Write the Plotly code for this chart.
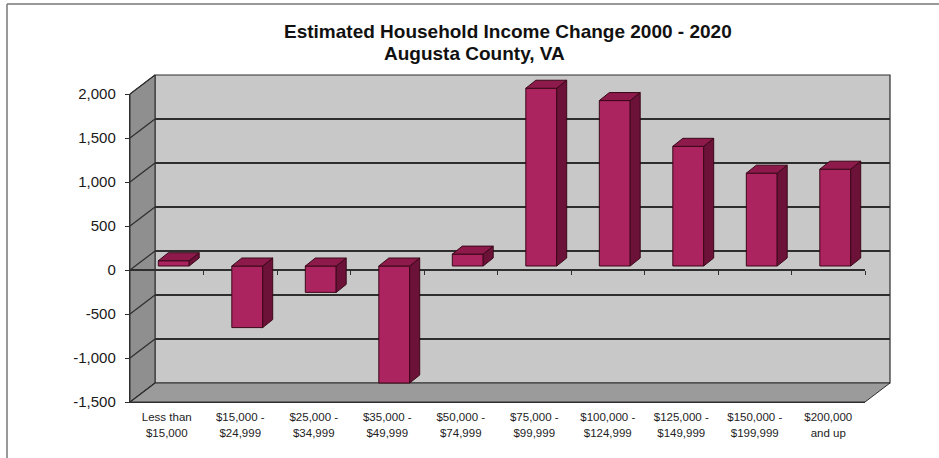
import plotly.graph_objects as go

# ---------------- data ----------------
categories = ["Less than<br>$15,000", "$15,000 -<br>$24,999", "$25,000 -<br>$34,999",
              "$35,000 -<br>$49,999", "$50,000 -<br>$74,999", "$75,000 -<br>$99,999",
              "$100,000 -<br>$124,999", "$125,000 -<br>$149,999", "$150,000 -<br>$199,999",
              "$200,000<br>and up"]
values = [60, -700, -300, -1330, 135, 2020, 1880, 1360, 1055, 1100]
y_tick_values = [-1500, -1000, -500, 0, 500, 1000, 1500, 2000]
y_tick_labels = ["-1,500", "-1,000", "-500", "0", "500", "1,000", "1,500", "2,000"]
title_lines = ["Estimated Household Income Change 2000 - 2020", "Augusta County, VA"]

# ---------------- geometry / style ----------------
FIG_W, FIG_H = 939, 458
L, R, T, B = 130, 49, 75, 56
PW, PH = FIG_W - L - R, FIG_H - T - B
FRONT_W, FRONT_H = 735, 308
DX, DY = 25, 19                 # depth of the 3-D box (px)
BAR_FRONT = (7, 4)              # bar front-face offset into the box (px)
BAR_BACK = (17, 12)             # bar back-face offset (px)
BAR_W = 0.42

FONT = "Liberation Sans, Arial, sans-serif"
GRID = "#2e2e2e"
BACKWALL = "#c8c8c8"
SIDEWALL = "#8f8f8f"
FLOOR = "#9b9b9b"
BAR_FRONT_C = "#ab235f"
BAR_SIDE_C = "#6c1239"
BAR_TOP_C = "#8e1a4c"
BAR_EDGE = "#3a0818"

n = len(values)
xlo, xhi = -0.5, n - 0.5
ylo, yhi = y_tick_values[0], y_tick_values[-1]
px_per_cat = FRONT_W / (xhi - xlo)
px_per_unit = FRONT_H / (yhi - ylo)
label_line1 = [c.split("<br>")[0] for c in categories]
label_line2 = [c.split("<br>")[1] for c in categories]


def pxf(xpix):
    return (xpix - L) / PW


def pyf(ypix):
    return (FIG_H - B - ypix) / PH


def yfront(v):
    return FIG_H - B - (v - ylo) * px_per_unit


def path(points):
    return "M " + " L ".join(f"{pxf(x):.5f},{pyf(y):.5f}" for x, y in points) + " Z"


xb = FIG_H - B  # front bottom pixel
shapes = []
shapes.append(dict(type="rect", xref="paper", yref="paper", layer="below",
                   x0=pxf(L + DX), x1=pxf(L + FRONT_W + DX),
                   y0=pyf(xb - DY), y1=pyf(xb - FRONT_H - DY),
                   fillcolor=BACKWALL, line=dict(color=GRID, width=1.2)))
shapes.append(dict(type="path", xref="paper", yref="paper", layer="below",
                   path=path([(L, xb - FRONT_H), (L + DX, xb - FRONT_H - DY),
                              (L + DX, xb - DY), (L, xb)]),
                   fillcolor=SIDEWALL, line=dict(color=GRID, width=1)))
shapes.append(dict(type="path", xref="paper", yref="paper", layer="below",
                   path=path([(L, xb), (L + FRONT_W, xb), (L + FRONT_W + DX, xb - DY), (L + DX, xb - DY)]),
                   fillcolor=FLOOR, line=dict(color=GRID, width=1)))
for t in y_tick_values:
    yy = yfront(t)
    shapes.append(dict(type="line", xref="paper", yref="paper", layer="below",
                       x0=pxf(L), y0=pyf(yy), x1=pxf(L + DX), y1=pyf(yy - DY),
                       line=dict(color=GRID, width=1.2)))
shapes.append(dict(type="line", xref="paper", yref="paper", layer="below",
                   x0=pxf(7), y0=pyf(4), x1=pxf(FIG_W + 5), y1=pyf(4),
                   line=dict(color="#777777", width=1.5)))
shapes.append(dict(type="line", xref="paper", yref="paper", layer="below",
                   x0=pxf(7), y0=pyf(4), x1=pxf(7), y1=pyf(FIG_H + 5),
                   line=dict(color="#777777", width=1.5)))

# ---------------- bar faces ----------------
ddx = (BAR_BACK[0] - BAR_FRONT[0]) / px_per_cat
ddy = (BAR_BACK[1] - BAR_FRONT[1]) / px_per_unit
side_x, side_y, top_x, top_y = [], [], [], []
for i, v in enumerate(values):
    xl, xr = i - BAR_W / 2, i + BAR_W / 2
    side_x += [xr, xr + ddx, xr + ddx, xr, xr, None]
    side_y += [0, ddy, v + ddy, v, 0, None]
    ytop = max(v, 0)
    top_x += [xl, xr, xr + ddx, xl + ddx, xl, None]
    top_y += [ytop, ytop, ytop + ddy, ytop + ddy, ytop, None]

fig = go.Figure()
fig.add_trace(go.Scatter(x=[None], y=[None], xaxis="x", yaxis="y", showlegend=False, hoverinfo="skip"))
fig.add_trace(go.Scatter(x=[None], y=[None], xaxis="x2", yaxis="y2", showlegend=False, hoverinfo="skip"))
fig.add_trace(go.Scatter(x=[None], y=[None], xaxis="x4", yaxis="y2", showlegend=False, hoverinfo="skip"))
fig.add_trace(go.Scatter(x=[None], y=[None], xaxis="x5", yaxis="y2", showlegend=False, hoverinfo="skip"))
fig.add_trace(go.Bar(x=list(range(n)), y=values, width=BAR_W, xaxis="x3", yaxis="y3",
                     marker=dict(color=BAR_FRONT_C, line=dict(color=BAR_EDGE, width=1)),
                     showlegend=False, hoverinfo="skip"))
fig.add_trace(go.Scatter(x=side_x, y=side_y, xaxis="x3", yaxis="y3", mode="lines", fill="toself",
                         fillcolor=BAR_SIDE_C, line=dict(color=BAR_EDGE, width=1),
                         showlegend=False, hoverinfo="skip"))
fig.add_trace(go.Scatter(x=top_x, y=top_y, xaxis="x3", yaxis="y3", mode="lines", fill="toself",
                         fillcolor=BAR_TOP_C, line=dict(color=BAR_EDGE, width=1),
                         showlegend=False, hoverinfo="skip"))

bx_lo = xlo - BAR_FRONT[0] / px_per_cat
by_lo = ylo - BAR_FRONT[1] / px_per_unit
zero_pos = (0 - ylo) * px_per_unit / PH
xlab_font = dict(size=11.5, color="#222222", family=FONT)

annotations = [
    dict(text=title_lines[0], xref="paper", yref="paper", x=pxf(508), y=pyf(31),
         xanchor="center", yanchor="middle", showarrow=False,
         font=dict(family=FONT, size=19, color="#111111", weight="bold")),
    dict(text=title_lines[1], xref="paper", yref="paper", x=pxf(474), y=pyf(53),
         xanchor="center", yanchor="middle", showarrow=False,
         font=dict(family=FONT, size=19, color="#111111", weight="bold")),
]

fig.update_layout(
    width=FIG_W, height=FIG_H,
    margin=dict(l=L, r=R, t=T, b=B, pad=0),
    paper_bgcolor="white", plot_bgcolor="rgba(0,0,0,0)",
    font=dict(family=FONT, color="#1a1a1a"),
    shapes=shapes, annotations=annotations,
    xaxis=dict(domain=[DX / PW, 1], range=[xlo, xhi], anchor="y", visible=False, fixedrange=True),
    yaxis=dict(domain=[DY / PH, 1], range=[ylo, yhi], anchor="x", tickvals=y_tick_values,
               showticklabels=False, ticks="", showgrid=True, gridcolor=GRID, gridwidth=1.3,
               zeroline=False, showline=False, fixedrange=True),
    xaxis2=dict(domain=[0, FRONT_W / PW], range=[xlo, xhi], anchor="y2",
                tickvals=list(range(n)), ticktext=label_line1, ticks="",
                tickfont=xlab_font, ticklabelstandoff=4,
                showgrid=False, zeroline=False, showline=True, linecolor=GRID, linewidth=1.2,
                fixedrange=True),
    xaxis5=dict(domain=[0, FRONT_W / PW], range=[xlo, xhi], anchor="free", overlaying="x2",
                position=0, tickvals=list(range(n)), ticktext=label_line2, ticks="",
                tickfont=xlab_font, ticklabelstandoff=22,
                showgrid=False, zeroline=False, showline=False, fixedrange=True),
    yaxis2=dict(domain=[0, FRONT_H / PH], range=[ylo, yhi], anchor="x2",
                tickvals=y_tick_values, ticktext=y_tick_labels, ticks="outside", ticklen=4,
                tickcolor=GRID, tickfont=dict(size=15, color="#1a1a1a"), ticklabelstandoff=6,
                showgrid=False, showline=True, linecolor=GRID, linewidth=1.2,
                zeroline=True, zerolinecolor=GRID, zerolinewidth=1.3, fixedrange=True),
    xaxis4=dict(domain=[0, FRONT_W / PW], range=[xlo, xhi], anchor="free", overlaying="x2",
                position=zero_pos, tickvals=[k + 0.5 for k in range(n)], ticks="outside",
                ticklen=4, tickcolor=GRID, showticklabels=False, showgrid=False,
                zeroline=False, showline=False, fixedrange=True),
    xaxis3=dict(domain=[0, 1], range=[bx_lo, bx_lo + PW / px_per_cat], anchor="y3",
                visible=False, fixedrange=True),
    yaxis3=dict(domain=[0, 1], range=[by_lo, by_lo + PH / px_per_unit], anchor="x3",
                visible=False, fixedrange=True),
)

fig.write_html("out.html", config={"displayModeBar": False, "staticPlot": True},
               post_script="document.body.style.margin='0';document.body.style.overflow='hidden';")
